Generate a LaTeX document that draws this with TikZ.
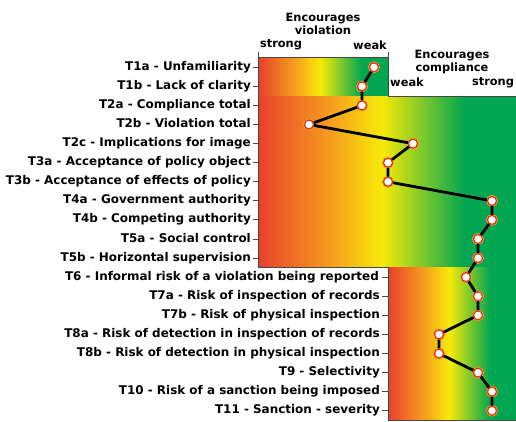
\documentclass[tikz,border=0pt]{standalone}
\usepackage{fontspec}
\setmainfont{DejaVu Sans}
\usepackage{tikz}
\usetikzlibrary{positioning}

\definecolor{scalered}{RGB}{232,64,44}
\definecolor{scaleorange}{RGB}{246,158,30}
\definecolor{scaleyellow}{RGB}{247,234,8}
\definecolor{scalegreen}{RGB}{0,166,81}
\definecolor{axisgray}{RGB}{70,70,70}
\definecolor{dotred}{RGB}{225,50,30}
\pgfdeclarehorizontalshading{riskscale}{100bp}{color(0bp)=(scalered); color(25bp)=(scalered); color(39bp)=(scaleorange); color(49bp)=(scaleyellow); color(65bp)=(scalegreen); color(75bp)=(scalegreen); color(100bp)=(scalegreen)}

\tikzset{
  band/.style={shading=riskscale},
  axisline/.style={draw=axisgray,line width=0.9pt},
  lbl/.style={anchor=east,inner sep=0pt,text height=6pt,text depth=0pt,font=\fontsize{11.95}{13}\selectfont\bfseries},
  head/.style={inner sep=0pt,align=center,font=\fontsize{11.4}{13}\selectfont\bfseries},
  score/.style={circle,minimum size=9pt,inner sep=0pt,fill=white,draw=dotred,line width=1.2pt,
    preaction={draw=scaleorange,line width=2.8pt}},
  trend/.style={draw=black,line width=2.8pt}
}

\begin{document}
\begin{tikzpicture}[x=1pt,y=-1pt]
\useasboundingbox (0,0) rectangle (516,421);
% colour bands
\shade[band] (258,57) rectangle (388,96);
\shade[band] (258,96) rectangle (516,267.5);
\shade[band] (388,267.5) rectangle (516,420);
% frame
\draw[axisline] (258,52) -- (258,267.5) -- (388,267.5) -- (388,420) -- (516,420);
\draw[axisline] (258,57) -- (388,57);
\draw[axisline] (388,52) -- (388,96) -- (516,96);
\foreach \y in {67.3,86.4,105.5,124.5,143.6,162.7,181.8,200.9,219.9,239,258.1}
  \draw[axisline] (253,\y) -- (258,\y);
\foreach \y in {277.2,296.3,315.3,334.4,353.5,372.6,391.6,410.7}
  \draw[axisline] (382,\y) -- (388,\y);

% headings
\node at (323,23.5)[head](hviol){Encourages\\violation};
\node at (281,45)[head](hvstrong){strong};
\node at (370,45)[head](hvweak){weak};
\node at (452,62)[head](hcomp){Encourages\\compliance};
\node at (407,82.5)[head](hcweak){weak};
\node at (493,82.5)[head](hcstrong){strong};

% factor labels
\node at (251,67.3)[lbl](l1a){T1a - Unfamiliarity};
\node at (251,86.4)[lbl](l1b){T1b - Lack of clarity};
\node at (251,105.5)[lbl](l2a){T2a - Compliance total};
\node at (251,124.5)[lbl](l2b){T2b - Violation total};
\node at (251,143.6)[lbl](l2c){T2c - Implications for image};
\node at (251,162.7)[lbl](l3a){T3a - Acceptance of policy object};
\node at (251,181.8)[lbl](l3b){T3b - Acceptance of effects of policy};
\node at (251,200.9)[lbl](l4a){T4a - Government authority};
\node at (251,219.9)[lbl](l4b){T4b - Competing authority};
\node at (251,239)[lbl](l5a){T5a - Social control};
\node at (251,258.1)[lbl](l5b){T5b - Horizontal supervision};
\node at (379,277.2)[lbl](l6){T6 - Informal risk of a violation being reported};
\node at (380,296.3)[lbl](l7a){T7a - Risk of inspection of records};
\node at (380,315.3)[lbl](l7b){T7b - Risk of physical inspection};
\node at (380,334.4)[lbl](l8a){T8a - Risk of detection in inspection of records};
\node at (380,353.5)[lbl](l8b){T8b - Risk of detection in physical inspection};
\node at (380,372.6)[lbl](l9){T9 - Selectivity};
\node at (380,391.6)[lbl](l10){T10 - Risk of a sanction being imposed};
\node at (380,410.7)[lbl](l11){T11 - Sanction - severity};

% scores
\node at (374,67.3)[score](p1a){};
\node at (362,86.4)[score](p1b){};
\node at (362,105.5)[score](p2a){};
\node at (309,124.5)[score](p2b){};
\node at (413,143.6)[score](p2c){};
\node at (388,162.7)[score](p3a){};
\node at (388,181.8)[score](p3b){};
\node at (492,200.9)[score](p4a){};
\node at (492,219.9)[score](p4b){};
\node at (478,239)[score](p5a){};
\node at (478,258.1)[score](p5b){};
\node at (466,277.2)[score](p6){};
\node at (478,296.3)[score](p7a){};
\node at (478,315.3)[score](p7b){};
\node at (439,334.4)[score](p8a){};
\node at (439,353.5)[score](p8b){};
\node at (478,372.6)[score](p9){};
\node at (492,391.6)[score](p10){};
\node at (492,410.7)[score](p11){};
\draw[trend] (p1a) -- (p1b) -- (p2a) -- (p2b) -- (p2c) -- (p3a) -- (p3b) -- (p4a) -- (p4b) -- (p5a) -- (p5b)
  -- (p6) -- (p7a) -- (p7b) -- (p8a) -- (p8b) -- (p9) -- (p10) -- (p11);
\end{tikzpicture}
\end{document}
